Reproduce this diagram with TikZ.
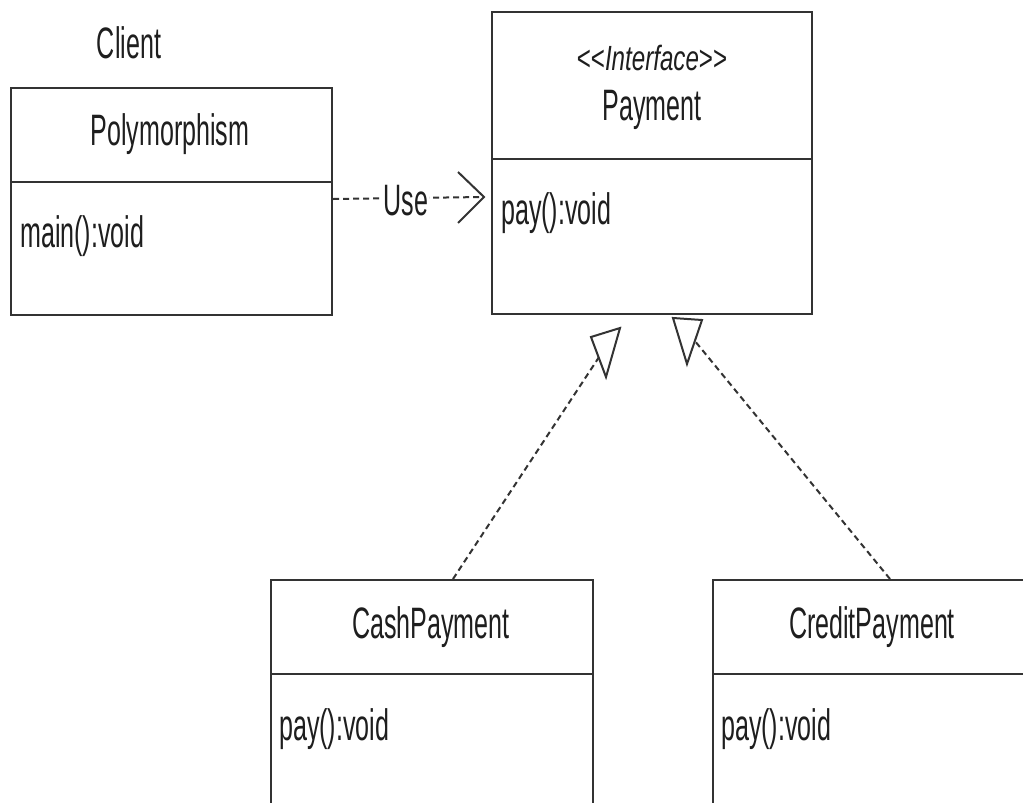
\documentclass[tikz,border=0pt]{standalone}
\usepackage{fontspec}
\setmainfont{Liberation Sans}
\usetikzlibrary{arrows.meta}
\definecolor{ln}{HTML}{333333}
\definecolor{tx}{HTML}{1E1E1E}
\newcommand{\nar}[1]{\scalebox{0.57}[1]{#1}}
\tikzset{
  box/.style={draw=ln, line width=2.2pt, rectangle, inner sep=0pt, anchor=north west},
  sep/.style={draw=ln, line width=1.9pt},
  lbl/.style={text=tx, inner sep=0pt, font=\fontsize{44}{48}\selectfont},
  dep/.style={draw=ln, line width=2pt, dash pattern=on 6pt off 4pt},
  tri/.style={draw=ln, line width=2pt, fill=white, line join=miter},
}
\begin{document}
\begin{tikzpicture}[x=1pt,y=-1pt]
\useasboundingbox (0,0) rectangle (1023,803);
\clip (0,0) rectangle (1023,803);
\fill[white] (0,0) rectangle (1023,803);

% Client / Polymorphism
\node[lbl, anchor=base] (client) at (129,58) {\nar{Client}};
\node[box, minimum width=321pt, minimum height=227pt] (poly) at (10,87) {};
\draw[sep] (10,182) -- (331,182);
\node[lbl, anchor=base] (polyname) at (170,145) {\nar{Polymorphism}};
\node[lbl, anchor=base west] (polyop) at (20,247) {\nar{main():void}};

% Payment interface
\node[box, minimum width=320pt, minimum height=302pt] (pay) at (491,11) {};
\draw[sep] (491,159) -- (811,159);
\node[lbl, anchor=base, font=\fontsize{35}{38}\selectfont] (stereo) at (652,70) {\scalebox{0.69}[1]{{<}{<}\textit{Interface}{>}{>}}};
\node[lbl, anchor=base] (payname) at (652,120) {\nar{Payment}};
\node[lbl, anchor=base west] (payop) at (501,224) {\nar{pay():void}};

% CashPayment
\node[box, minimum width=322pt, minimum height=260pt] (cash) at (270,579) {};
\draw[sep] (270,674) -- (592,674);
\node[lbl, anchor=base] (cashname) at (431,638) {\nar{CashPayment}};
\node[lbl, anchor=base west] (cashop) at (279,740) {\nar{pay():void}};

% CreditPayment
\node[box, minimum width=322pt, minimum height=260pt] (credit) at (712,579) {};
\draw[sep] (712,674) -- (1034,674);
\node[lbl, anchor=base] (creditname) at (872,638) {\nar{CreditPayment}};
\node[lbl, anchor=base west] (creditop) at (721,740) {\nar{pay():void}};

% Use dependency
\coordinate (usetip) at (484,197);
\draw[dep] (poly.east |- 0,199) -- (usetip);
\node[lbl, fill=white, inner xsep=1pt, anchor=base] (use) at (406,215) {\nar{Use}};
\draw[draw=ln, line width=2pt, line join=miter] (458,172) -- (usetip) -- (458,223);

% Realizations
\coordinate (cashtop) at (453,579);
\coordinate (lefttri) at (605,348);
\coordinate (credittop) at (890,579);
\coordinate (righttri) at (690,335);
\draw[dep] (cashtop) -- (lefttri);
\draw[dep] (credittop) -- (righttri);
\draw[tri] (591,337) -- (620,328) -- (606,377) -- cycle;
\draw[tri] (673,318) -- (702,320) -- (687,364) -- cycle;
\end{tikzpicture}
\end{document}
